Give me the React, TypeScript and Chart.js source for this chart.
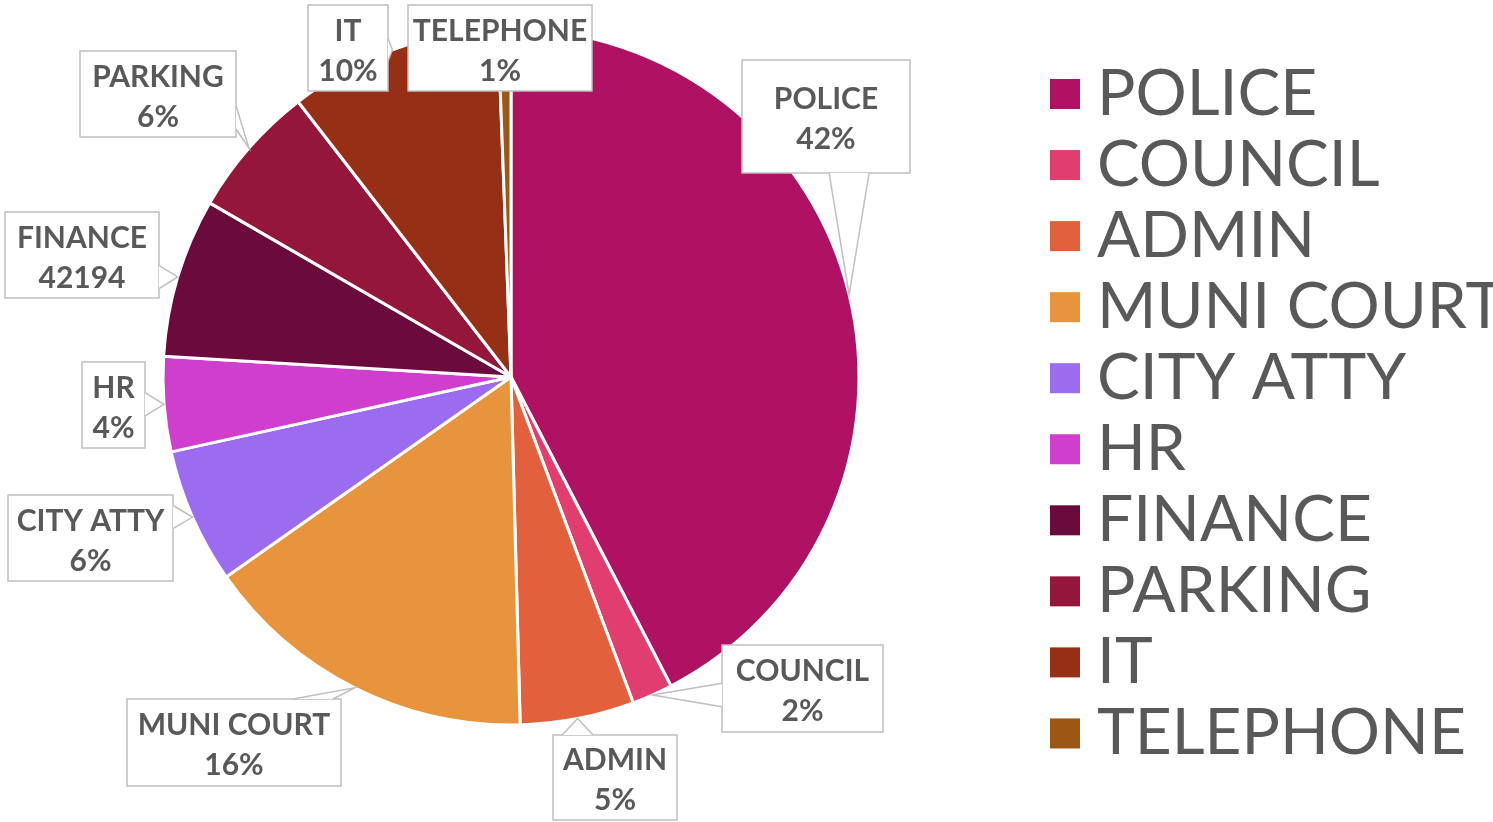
import React, { useEffect, useRef } from "react";
import { Chart, registerables } from "chart.js";

Chart.register(...registerables);

// ---- data ----
const categories = [
  "POLICE",
  "COUNCIL",
  "ADMIN",
  "MUNI COURT",
  "CITY ATTY",
  "HR",
  "FINANCE",
  "PARKING",
  "IT",
  "TELEPHONE",
];
const values = [242000, 10800, 30200, 89500, 35900, 25100, 42194, 35300, 56400, 3400];
const sliceColors = [
  "#B01263",
  "#E23D6F",
  "#E2603C",
  "#E8943C",
  "#9B6CEF",
  "#D03ECE",
  "#6A0A3D",
  "#94173B",
  "#962F16",
  "#9C5715",
];
// categories whose callout shows the raw value instead of a percentage
const valueLabelCategories = ["FINANCE"];

// ---- layout of the callout boxes (offset of box centre from pie centre, box size, pointer side) ----
const calloutLayout = [
  { dx: 315, dy: -260.5, w: 168, h: 113, side: "bottom" },
  { dx: 291.5, dy: 311.5, w: 161, h: 87, side: "left" },
  { dx: 104, dy: 400.5, w: 124, h: 85, side: "top" },
  { dx: -277, dy: 365.5, w: 214, h: 87, side: "top" },
  { dx: -420.5, dy: 161, w: 165, h: 86, side: "right" },
  { dx: -397.5, dy: 28, w: 63, h: 86, side: "right" },
  { dx: -429, dy: -122, w: 154, h: 86, side: "right" },
  { dx: -353, dy: -283, w: 156, h: 86, side: "right" },
  { dx: -163, dy: -329, w: 80, h: 86, side: "right" },
  { dx: -11, dy: -329, w: 184, h: 86, side: "none" },
];

const TEXT_COLOR = "#595959";
const BOX_BORDER = "#BFBFBF";

const clamp = (v: number, lo: number, hi: number) => Math.max(lo, Math.min(hi, v));

const calloutPlugin = {
  id: "callouts",
  afterDatasetsDraw(chart: any) {
    const meta = chart.getDatasetMeta(0);
    const ctx: CanvasRenderingContext2D = chart.ctx;
    const data: number[] = chart.data.datasets[0].data;
    const total = data.reduce((a, b) => a + b, 0);
    meta.data.forEach((arc: any, i: number) => {
      const { x, y, startAngle, endAngle, outerRadius } = arc.getProps(
        ["x", "y", "startAngle", "endAngle", "outerRadius"],
        true
      );
      const mid = (startAngle + endAngle) / 2;
      const tipX = x + Math.cos(mid) * outerRadius;
      const tipY = y + Math.sin(mid) * outerRadius;
      const b = calloutLayout[i];
      const cx = x + b.dx;
      const cy = y + b.dy;
      const left = cx - b.w / 2;
      const right = cx + b.w / 2;
      const top = cy - b.h / 2;
      const bottom = cy + b.h / 2;

      ctx.save();
      ctx.lineWidth = 1.5;
      ctx.strokeStyle = BOX_BORDER;
      ctx.fillStyle = "#ffffff";
      ctx.fillRect(left, top, b.w, b.h);
      ctx.strokeRect(left, top, b.w, b.h);

      if (b.side !== "none") {
        let p1: [number, number];
        let p2: [number, number];
        if (b.side === "top" || b.side === "bottom") {
          const ey = b.side === "bottom" ? bottom : top;
          const bw = clamp(b.w * 0.25, 20, 40);
          const c = clamp(tipX, left + bw / 2 + 8, right - bw / 2 - 8);
          p1 = [c - bw / 2, ey];
          p2 = [c + bw / 2, ey];
        } else {
          const ex = b.side === "right" ? right : left;
          const bw = clamp(b.h * 0.27, 18, 40);
          const c = clamp(tipY, top + bw / 2 + 8, bottom - bw / 2 - 8);
          p1 = [ex, c - bw / 2];
          p2 = [ex, c + bw / 2];
        }
        ctx.beginPath();
        ctx.moveTo(p1[0], p1[1]);
        ctx.lineTo(tipX, tipY);
        ctx.lineTo(p2[0], p2[1]);
        ctx.closePath();
        ctx.fill();
        ctx.beginPath();
        ctx.moveTo(p1[0], p1[1]);
        ctx.lineTo(tipX, tipY);
        ctx.lineTo(p2[0], p2[1]);
        ctx.stroke();
      }

      const name = chart.data.labels[i];
      const v = data[i];
      const second = valueLabelCategories.includes(name)
        ? String(v)
        : Math.round((v / total) * 100) + "%";
      ctx.fillStyle = TEXT_COLOR;
      ctx.font = "bold 30px Lato";
      ctx.textAlign = "center";
      ctx.textBaseline = "middle";
      ctx.fillText(name, cx, cy - 17);
      ctx.fillText(second, cx, cy + 23);
      ctx.restore();
    });
  },
};

const legendPlugin = {
  id: "sideLegend",
  afterDraw(chart: any) {
    const ctx: CanvasRenderingContext2D = chart.ctx;
    const labels: string[] = chart.data.labels;
    const colors: string[] = chart.data.datasets[0].backgroundColor;
    const boxX = 1050;
    const boxSize = 30;
    const firstY = 94;
    const step = 71.05;
    ctx.save();
    ctx.font = "400 64px Lato";
    ctx.textAlign = "left";
    ctx.textBaseline = "middle";
    labels.forEach((lab, i) => {
      const yc = firstY + i * step;
      ctx.fillStyle = colors[i];
      ctx.fillRect(boxX, yc - boxSize / 2, boxSize, boxSize);
      ctx.fillStyle = TEXT_COLOR;
      ctx.fillText(lab, 1097, yc);
    });
    ctx.restore();
  },
};

export default function App() {
  const ref = useRef<HTMLCanvasElement>(null);
  useEffect(() => {
    if (!ref.current) return;
    const chart = new Chart(ref.current, {
      type: "pie",
      data: {
        labels: categories,
        datasets: [
          {
            data: values,
            backgroundColor: sliceColors,
            borderColor: "#ffffff",
            borderWidth: 3,
            hoverOffset: 0,
            radius: 348,
          } as any,
        ],
      },
      options: {
        responsive: false,
        animation: false,
        events: [],
        layout: { padding: { left: 0, right: 471, top: 29, bottom: 97 } },
        plugins: {
          legend: { display: false },
          tooltip: { enabled: false },
        },
      },
      plugins: [calloutPlugin, legendPlugin],
    });
    return () => chart.destroy();
  }, []);
  return (
    <div style={{ position: "fixed", left: 0, top: 0, width: 1493, height: 822, background: "#fff" }}>
      <canvas ref={ref} width={1493} height={822} style={{ display: "block" }} />
    </div>
  );
}
